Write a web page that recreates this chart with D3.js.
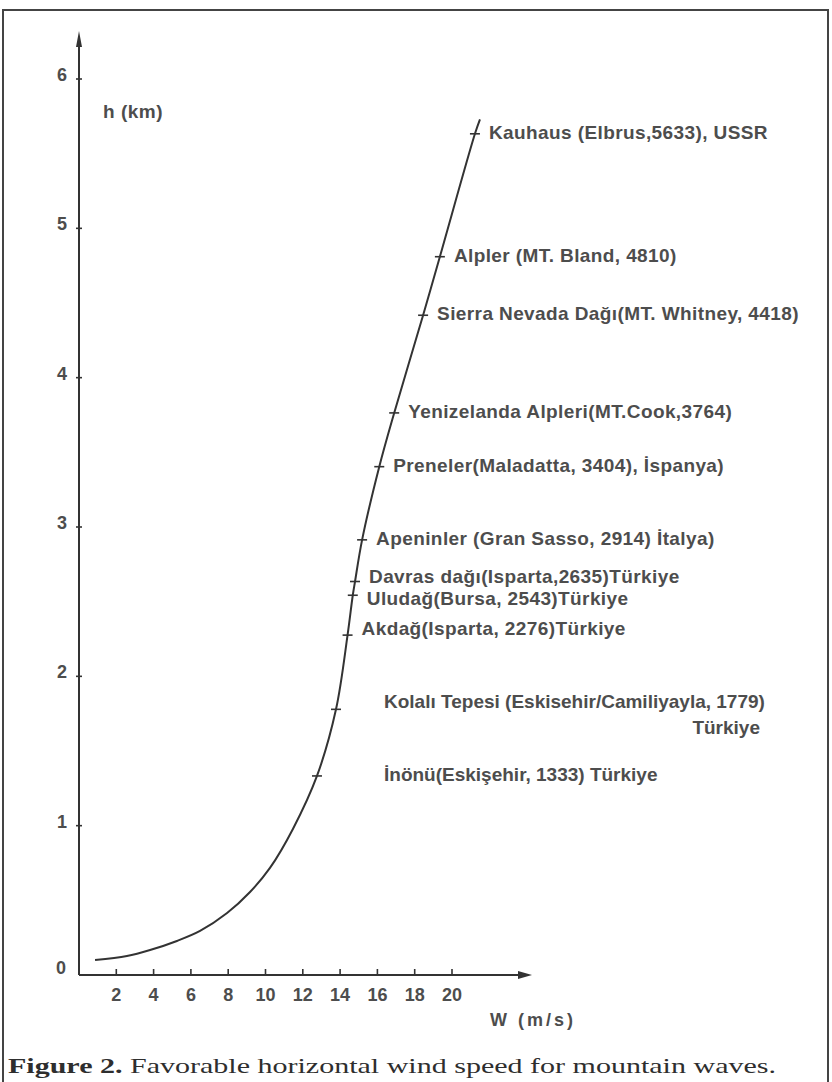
<!DOCTYPE html>
<html>
<head>
<meta charset="utf-8">
<script src="https://cdn.jsdelivr.net/npm/d3@7"></script>
<style>
  html, body { margin: 0; padding: 0; background: #fff; }
  svg { display: block; }
  .lbl { font-family: "Liberation Sans", Arial, sans-serif; font-weight: bold; fill: #4d4d4d; }
  .cap { font-family: "Liberation Serif", "DejaVu Serif", serif; fill: #2e2e2e; }
</style>
</head>
<body>
<svg id="chart" width="832" height="1082"></svg>
<script>
// Mountains marked along the curve: name, summit elevation (m), wind speed (m/s)
const mountainNames = [
  "İnönü(Eskişehir, 1333) Türkiye",
  "Kolalı  Tepesi (Eskisehir/Camiliyayla, 1779)",
  "Akdağ(Isparta, 2276)Türkiye",
  "Uludağ(Bursa, 2543)Türkiye",
  "Davras dağı(Isparta,2635)Türkiye",
  "Apeninler (Gran Sasso, 2914)  İtalya)",
  "Preneler(Maladatta, 3404), İspanya)",
  "Yenizelanda  Alpleri(MT.Cook,3764)",
  "Sierra Nevada Dağı(MT. Whitney, 4418)",
  "Alpler (MT. Bland, 4810)",
  "Kauhaus (Elbrus,5633), USSR"
];
const mountainElev = [1333, 1779, 2276, 2543, 2635, 2914, 3404, 3764, 4418, 4810, 5633];
const mountainWind = [12.76, 13.78, 14.4, 14.68, 14.8, 15.18, 16.1, 16.9, 18.45, 19.35, 21.23];

// Remaining points of the favourable wind-speed curve (W in m/s, h in km)
const curveW = [0.86, 2.57, 3.81, 5.25, 6.49, 7.94, 9.17, 10.24, 11.47, 21.5];
const curveH = [0.100, 0.127, 0.167, 0.228, 0.295, 0.415, 0.556, 0.717, 0.978, 5.73];

// Axis ticks
const xTicks = [2, 4, 6, 8, 10, 12, 14, 16, 18, 20];
const yTicks = [0, 1, 2, 3, 4, 5, 6];

const svg = d3.select("#chart");
const ink = "#333";

// Frame around the figure
svg.append("path")
  .attr("d", "M3,1082 V10 H828 V1082")
  .attr("fill", "none").attr("stroke", "#444").attr("stroke-width", 2);

const x = d3.scaleLinear().domain([0, 20]).range([79, 452]);
const y = d3.scaleLinear().domain([0, 6]).range([975, 79]);

// Axes
const g = svg.append("g");
g.append("line").attr("x1", x(0)).attr("x2", 524).attr("y1", y(0)).attr("y2", y(0))
  .attr("stroke", ink).attr("stroke-width", 2);
g.append("path").attr("d", `M532,${y(0)} l-14,-4 l0,8 z`).attr("fill", ink);
g.append("line").attr("x1", x(0)).attr("x2", x(0)).attr("y1", y(0)).attr("y2", 40)
  .attr("stroke", ink).attr("stroke-width", 2);
g.append("path").attr("d", `M${x(0)},31 l-3,16 l6,0 z`).attr("fill", ink);

g.selectAll(".xt").data(xTicks).join("line")
  .attr("x1", d => x(d)).attr("x2", d => x(d))
  .attr("y1", y(0)).attr("y2", y(0) - 6)
  .attr("stroke", ink).attr("stroke-width", 1.6);
g.selectAll(".xl").data(xTicks).join("text")
  .attr("class", "lbl")
  .attr("x", d => x(d)).attr("y", y(0) + 26)
  .attr("text-anchor", "middle").attr("font-size", 18)
  .text(d => d);

g.selectAll(".yt").data(yTicks.filter(d => d > 0)).join("line")
  .attr("x1", x(0) - 3).attr("x2", x(0) + 3)
  .attr("y1", d => y(d)).attr("y2", d => y(d))
  .attr("stroke", ink).attr("stroke-width", 1.6);
g.selectAll(".yl").data(yTicks).join("text")
  .attr("class", "lbl")
  .attr("x", d => d === 0 ? x(0) - 13 : x(0) - 12).attr("y", d => d === 0 ? y(d) - 1 : y(d) + 2)
  .attr("text-anchor", "end").attr("font-size", 18)
  .text(d => d);

g.append("text").attr("class", "lbl").attr("x", 103).attr("y", 118)
  .attr("font-size", 19).attr("letter-spacing", 0.5).text("h (km)");
g.append("text").attr("class", "lbl").attr("x", 490).attr("y", 1026)
  .attr("font-size", 18).attr("letter-spacing", 3)
  .text("W  (m/s)");

// Curve through all points, ordered by wind speed
const pts = curveW.map((w, i) => ({ w, h: curveH[i] }))
  .concat(mountainWind.map((w, i) => ({ w, h: mountainElev[i] / 1000 })))
  .sort((a, b) => a.w - b.w);

const line = d3.line().x(d => x(d.w)).y(d => y(d.h)).curve(d3.curveCatmullRom.alpha(0.5));
g.append("path").datum(pts).attr("d", line)
  .attr("fill", "none").attr("stroke", ink).attr("stroke-width", 2);

// Marks and labels for each mountain
const marks = mountainNames.map((name, i) => ({ name, w: mountainWind[i], h: mountainElev[i] / 1000 }));
g.selectAll(".mk").data(marks).join("line")
  .attr("x1", d => x(d.w) - 5).attr("x2", d => x(d.w) + 5)
  .attr("y1", d => y(d.h)).attr("y2", d => y(d.h))
  .attr("stroke", ink).attr("stroke-width", 1.6);

// Labels sit just right of their mark; the two lowest start further out,
// and the crowded marks between 2.2 and 2.7 km are spread apart vertically.
const labelX = d => (d.h < 2 ? 384 : x(d.w) + 14);
const labelDy = d => (d.h > 2.6 && d.h < 2.7 ? -4 : d.h > 2.5 && d.h < 2.6 ? 5 : d.h < 2.3 && d.h > 2.2 ? -5 : d.h < 1.8 && d.h > 1.7 ? -6 : 0);
g.selectAll(".ml").data(marks).join("text")
  .attr("class", "lbl")
  .attr("x", labelX).attr("y", d => y(d.h) + labelDy(d))
  .attr("dominant-baseline", "middle")
  .attr("font-size", 19)
  .attr("letter-spacing", d => (d.h < 2 ? 0 : 0.4))
  .text(d => d.name);
g.append("text").attr("class", "lbl")
  .attr("x", 760).attr("y", y(1.779) + 20)
  .attr("dominant-baseline", "middle").attr("text-anchor", "end")
  .attr("font-size", 19).text("Türkiye");

// Caption
const cap = svg.append("text").attr("class", "cap").attr("x", 8).attr("y", 1073)
  .attr("font-size", 21).attr("textLength", 768).attr("lengthAdjust", "spacingAndGlyphs");
cap.append("tspan").attr("font-weight", "bold").text("Figure 2.");
cap.append("tspan").text(" Favorable horizontal wind speed for mountain waves.");
</script>
</body>
</html>
